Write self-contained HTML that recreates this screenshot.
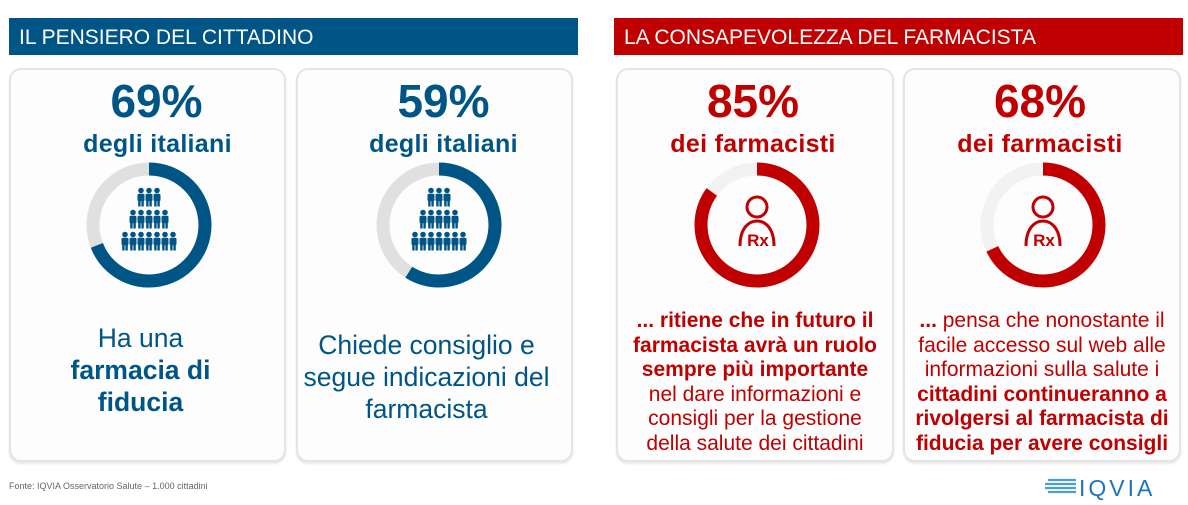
<!DOCTYPE html>
<html><head><meta charset="utf-8"><style>
body{margin:0;width:1188px;height:505px;background:#fff;font-family:"Liberation Sans",sans-serif;position:relative;overflow:hidden}
.hdr{position:absolute;top:18px;height:37px;color:#fff;font-size:21px;line-height:39px;padding-left:10px;box-sizing:border-box}
.card{position:absolute;top:68px;height:394px;border:2px solid #e4e4e4;border-radius:12px;box-sizing:border-box;box-shadow:0 2px 2px #e8e8e8;background:#fdfdfd}
.t{position:absolute;left:0;width:100%;text-align:center;white-space:nowrap}
.pct{font-size:46px;line-height:46px;font-weight:bold}
.sub{font-size:25px;line-height:25px;font-weight:bold;letter-spacing:0.3px}
.b{color:#005587}.r{color:#c00000}
.big{font-size:26.5px;line-height:32px}
.sm{font-size:21px;line-height:24.5px}
svg{position:absolute}
</style></head><body>
<div class="hdr" style="left:9px;width:569px;background:#005587">IL PENSIERO DEL CITTADINO</div>
<div class="hdr" style="left:614px;width:569px;background:#c00000">LA CONSAPEVOLEZZA DEL FARMACISTA</div>

<div class="card" style="left:9px;width:277px">
 <div class="t pct b" style="top:8px;left:9px">69%</div>
 <div class="t sub b" style="top:62px;left:10px">degli italiani</div>
 <div class="t big b" style="top:252px;left:-7px">Ha una<br><b>farmacia di<br>fiducia</b></div>
</div>
<div class="card" style="left:296px;width:277px">
 <div class="t pct b" style="top:8px;left:9px">59%</div>
 <div class="t sub b" style="top:62px;left:9px">degli italiani</div>
 <div class="t big b" style="top:259px;left:-8px">Chiede consiglio e<br>segue indicazioni del<br>farmacista</div>
</div>
<div class="card" style="left:616px;width:278px">
 <div class="t pct r" style="top:8px;left:-2px">85%</div>
 <div class="t sub r" style="top:62px;left:-2px">dei farmacisti</div>
 <div class="t sm r" style="top:239px"><b>... ritiene che in futuro il<br>farmacista avrà un ruolo<br>sempre più importante</b><br>nel dare informazioni e<br>consigli per la gestione<br>della salute dei cittadini</div>
</div>
<div class="card" style="left:903px;width:278px">
 <div class="t pct r" style="top:8px;left:-2px">68%</div>
 <div class="t sub r" style="top:62px;left:-2px">dei farmacisti</div>
 <div class="t sm r" style="top:239px"><b>...</b> pensa che nonostante il<br>facile accesso sul web alle<br>informazioni sulla salute i<br><b>cittadini continueranno a<br>rivolgersi al farmacista di<br>fiducia per avere consigli</b></div>
</div>

<svg width="1188" height="505" style="left:0;top:0">
 <defs>
  <g id="p"><circle cx="0" cy="-7.5" r="2.8"/><rect x="-3.5" y="-4.2" width="7" height="7.5" rx="1.5"/><rect x="-2.8" y="2" width="2.4" height="6.5"/><rect x="0.4" y="2" width="2.4" height="6.5"/></g>
  <g id="crowd" fill="#005587">
   <use href="#p" x="-8" y="-21"/><use href="#p" x="0" y="-21"/><use href="#p" x="8" y="-21"/>
   <use href="#p" x="-16" y="1"/><use href="#p" x="-8" y="1"/><use href="#p" x="0" y="1"/><use href="#p" x="8" y="1"/><use href="#p" x="16" y="1"/>
   <use href="#p" x="-24" y="23"/><use href="#p" x="-16" y="23"/><use href="#p" x="-8" y="23"/><use href="#p" x="0" y="23"/><use href="#p" x="8" y="23"/><use href="#p" x="16" y="23"/><use href="#p" x="24" y="23"/>
  </g>
  <g id="rx" fill="none" stroke="#c00000" stroke-width="3">
   <circle cx="0" cy="-17" r="10"/>
   <path d="M-17,22 C-17,4 -8,-3 0,-3 C8,-3 17,4 17,22"/>
  </g>
 </defs>
 <g transform="translate(149,225) rotate(-90)">
  <circle r="56" fill="none" stroke="#e0e0e0" stroke-width="13"/>
  <circle r="56" fill="none" stroke="#005587" stroke-width="13" stroke-dasharray="242.8 400"/>
 </g>
 <use href="#crowd" x="149" y="219"/>
 <g transform="translate(439,225) rotate(-90)">
  <circle r="56" fill="none" stroke="#e0e0e0" stroke-width="13"/>
  <circle r="56" fill="none" stroke="#005587" stroke-width="13" stroke-dasharray="207.6 400"/>
 </g>
 <use href="#crowd" x="439" y="219"/>
 <g transform="translate(757,225) rotate(-90)">
  <circle r="56" fill="none" stroke="#f2f2f2" stroke-width="13"/>
  <circle r="56" fill="none" stroke="#c00000" stroke-width="13" stroke-dasharray="299 400"/>
 </g>
 <use href="#rx" x="757" y="224"/>
 <text x="758" y="246" text-anchor="middle" font-family="Liberation Sans" font-weight="bold" font-size="17" fill="#c00000">Rx</text>
 <g transform="translate(1043,225) rotate(-90)">
  <circle r="56" fill="none" stroke="#f2f2f2" stroke-width="13"/>
  <circle r="56" fill="none" stroke="#c00000" stroke-width="13" stroke-dasharray="239 400"/>
 </g>
 <use href="#rx" x="1043" y="224"/>
 <text x="1044" y="246" text-anchor="middle" font-family="Liberation Sans" font-weight="bold" font-size="17" fill="#c00000">Rx</text>
 <g stroke="#4a9fd5" stroke-width="2.2">
  <line x1="1048" y1="480" x2="1076" y2="480"/><line x1="1045" y1="484" x2="1076" y2="484"/><line x1="1045" y1="488" x2="1076" y2="488"/><line x1="1048" y1="492" x2="1076" y2="492"/>
 </g>
 <text x="1079" y="496" font-family="Liberation Sans" font-size="23" fill="#1b75bb" letter-spacing="3">IQVIA</text>
 <text x="9" y="489" font-family="Liberation Sans" font-size="9" fill="#666">Fonte: IQVIA Osservatorio Salute – 1.000 cittadini</text>
</svg>
</body></html>
